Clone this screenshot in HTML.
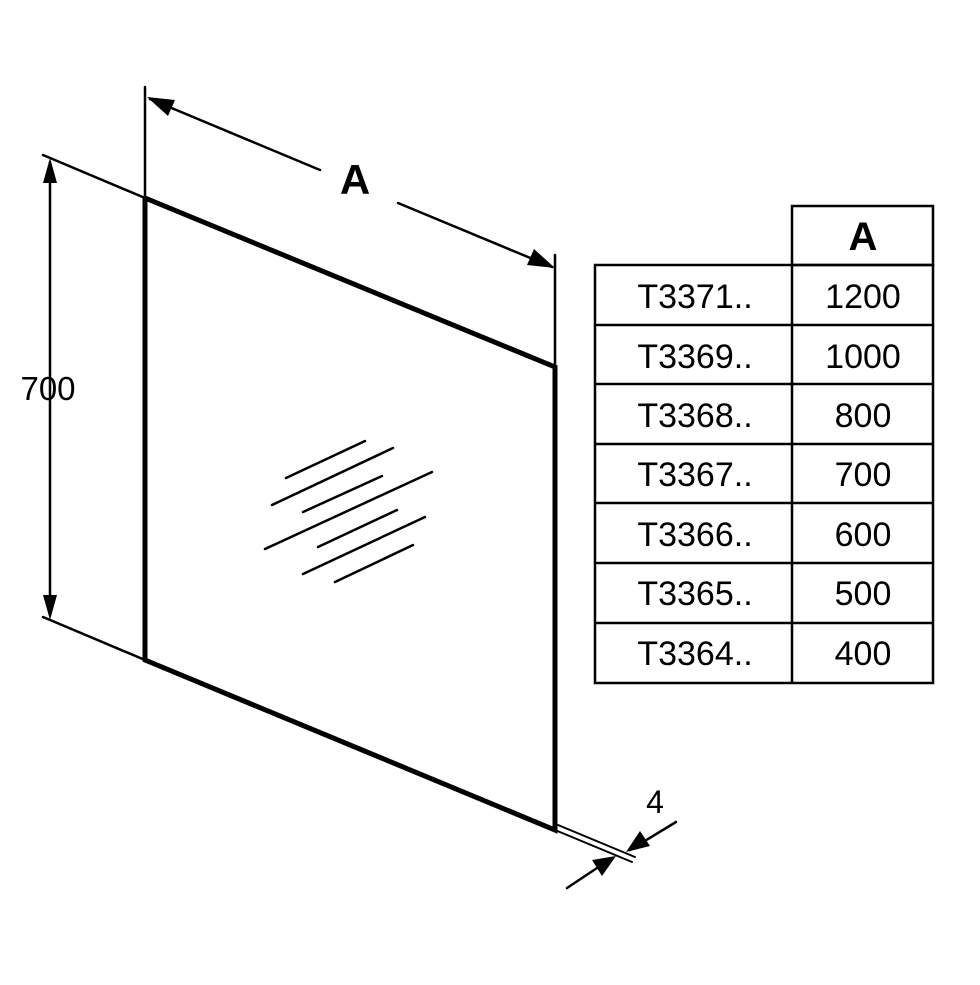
<!DOCTYPE html>
<html><head><style>html,body{margin:0;padding:0;background:#fff}</style></head>
<body>
<svg width="980" height="980" viewBox="0 0 980 980" xmlns="http://www.w3.org/2000/svg" font-family="Liberation Sans, sans-serif">
<g stroke="#000" fill="none" stroke-linecap="round">
<polyline points="145,198 555,367 555,830 145,660 145,198" stroke-width="5" stroke-linejoin="miter"/>
<line x1="145" y1="87" x2="145" y2="198" stroke-width="2.5"/>
<line x1="555" y1="255" x2="555" y2="367" stroke-width="2.5"/>
<line x1="43" y1="155" x2="145" y2="198" stroke-width="2.5"/>
<line x1="43" y1="617" x2="145" y2="660" stroke-width="2.5"/>
<line x1="150" y1="99" x2="320" y2="170" stroke-width="2.5"/>
<line x1="398" y1="203" x2="552" y2="267" stroke-width="2.5"/>
<line x1="50" y1="162" x2="50" y2="615" stroke-width="2.5"/>
<line x1="555" y1="830" x2="632" y2="862" stroke-width="2"/>
<line x1="558" y1="825" x2="635" y2="857" stroke-width="2"/>
<line x1="567" y1="888" x2="612" y2="858" stroke-width="2.5"/>
<line x1="676" y1="822" x2="630" y2="850" stroke-width="2.5"/>
<g stroke-width="2.5">
<line x1="286" y1="478" x2="365" y2="441"/>
<line x1="272" y1="505" x2="393" y2="448"/>
<line x1="303" y1="512" x2="382" y2="476"/>
<line x1="265" y1="549" x2="432" y2="472"/>
<line x1="318" y1="547" x2="397" y2="510"/>
<line x1="303" y1="574" x2="425" y2="517"/>
<line x1="335" y1="582" x2="413" y2="545"/>
</g>
</g>
<g fill="#000">
<polygon points="147,97 175,100 168,116"/>
<polygon points="555,268 527,265 534,249"/>
<polygon points="50,158 43,183 57,183"/>
<polygon points="50,620 43,595 57,595"/>
<polygon points="616,856 592,860 602,876"/>
<polygon points="626,852 640,831 650,846"/>
</g>
<text x="355" y="194" font-size="42" font-weight="bold" text-anchor="middle">A</text>
<text x="48" y="400" font-size="33" text-anchor="middle">700</text>
<text x="655" y="813" font-size="32" text-anchor="middle">4</text>
<g stroke="#000" stroke-width="2.5" fill="none">
<rect x="792" y="206" width="141" height="59"/>
<rect x="595" y="265" width="338" height="418"/>
<line x1="792" y1="265" x2="792" y2="683"/>
<line x1="595" y1="325" x2="933" y2="325"/>
<line x1="595" y1="384" x2="933" y2="384"/>
<line x1="595" y1="444" x2="933" y2="444"/>
<line x1="595" y1="503" x2="933" y2="503"/>
<line x1="595" y1="563" x2="933" y2="563"/>
<line x1="595" y1="623" x2="933" y2="623"/>
</g>
<g font-size="34" text-anchor="middle" fill="#000">
<text x="863" y="250" font-weight="bold" font-size="40">A</text>
<text x="695" y="308">T3371..</text><text x="863" y="308">1200</text>
<text x="695" y="368">T3369..</text><text x="863" y="368">1000</text>
<text x="695" y="427">T3368..</text><text x="863" y="427">800</text>
<text x="695" y="486">T3367..</text><text x="863" y="486">700</text>
<text x="695" y="546">T3366..</text><text x="863" y="546">600</text>
<text x="695" y="605">T3365..</text><text x="863" y="605">500</text>
<text x="695" y="665">T3364..</text><text x="863" y="665">400</text>
</g>
</svg>
</body></html>
